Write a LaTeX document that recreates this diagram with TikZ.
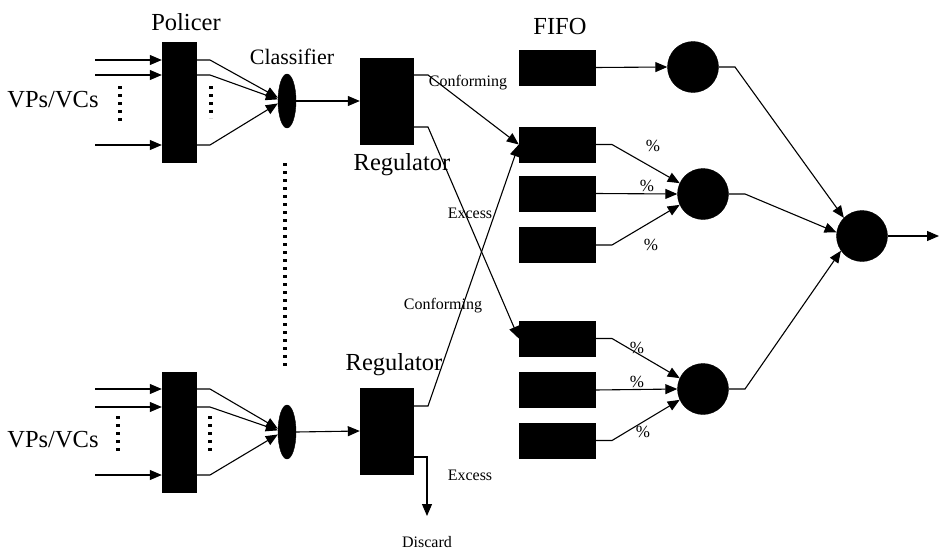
\documentclass[tikz,border=0pt]{standalone}
\usepackage{fontspec}
\setmainfont{Liberation Serif}
\usetikzlibrary{arrows.meta,shapes.geometric}
\begin{document}
\begin{tikzpicture}[x=1pt,y=-1pt,
  blk/.style={draw=black,fill=black,rectangle,inner sep=0pt},
  pol/.style={blk,minimum width=34pt,minimum height=120pt},
  reg/.style={blk,minimum width=53pt,minimum height=86pt},
  fifo/.style={blk,minimum width=76pt,minimum height=35pt},
  srv/.style={draw=black,fill=black,circle,inner sep=0pt,minimum size=51pt},
  cls/.style={draw=black,fill=black,ellipse,inner sep=0pt,minimum width=18pt,minimum height=54pt},
  big/.style={font=\fontsize{24.5}{28}\selectfont,inner sep=0pt},
  mid/.style={font=\fontsize{22}{26}\selectfont,inner sep=0pt},
  small/.style={font=\fontsize{16}{18}\selectfont,inner sep=0pt},
  pct/.style={font=\fontsize{17}{19}\selectfont,inner sep=0pt},
  ln/.style={draw=black,line width=1.1pt},
  arr/.style={ln,-{Triangle[length=12pt,width=10pt]}},
  dots/.style={draw=black,line width=3.2pt,dash pattern=on 3.2pt off 4.8pt}]
\useasboundingbox (0,0) rectangle (939,551);
% policers
\node[pol] (pol1) at (179,102) {};
\node[pol] (pol2) at (179,432.5) {};
\node[big] (lpol) at (186,22) {Policer};
\node[big] (lvp1) at (53,100) {VPs/VCs};
\node[big] (lvp2) at (53,440) {VPs/VCs};
% classifiers
\node[cls] (cls1) at (287,101) {};
\node[cls] (cls2) at (287,432) {};
\node[mid] (lcls) at (292,57) {Classifier};
% regulators
\node[reg] (reg1) at (386.5,101) {};
\node[reg] (reg2) at (386.5,431) {};
\node[big] (lreg1) at (402,165) {Regulator};
\node[big] (lreg2) at (394,365) {Regulator};
% FIFO queues
\node[big] (lfifo) at (560,27) {FIFO};
\node[fifo] (f1) at (557,67.5) {};
\node[fifo] (f2) at (557,144.5) {};
\node[fifo] (f3) at (557,193.5) {};
\node[fifo] (f4) at (557,245) {};
\node[fifo] (f5) at (557,338.5) {};
\node[fifo] (f6) at (557,390) {};
\node[fifo] (f7) at (557,440.5) {};
% servers
\node[srv] (c1) at (693,67) {};
\node[srv] (c2) at (703,194) {};
\node[srv] (c3) at (862,236) {};
\node[srv] (c4) at (703,389) {};
% input coordinates
\coordinate (a1) at (95,60);
\coordinate (a2) at (95,75);
\coordinate (a3) at (95,145);
\coordinate (b1) at (95,389);
\coordinate (b2) at (95,407);
\coordinate (b3) at (95,475);
\foreach \p in {a1,a2,a3}{\draw[arr] (\p) -- (\p -| pol1.west);}
\foreach \p in {b1,b2,b3}{\draw[arr] (\p) -- (\p -| pol2.west);}
% policer -> classifier
\draw[arr] (a1 -| pol1.east) -- (210,60) -- (cls1.160);
\draw[arr] (a2 -| pol1.east) -- (210,75) -- (cls1.170);
\draw[arr] (a3 -| pol1.east) -- (210,145) -- (cls1.195);
\draw[arr] (b1 -| pol2.east) -- (210,389) -- (cls2.160);
\draw[arr] (b2 -| pol2.east) -- (210,407) -- (cls2.170);
\draw[arr] (b3 -| pol2.east) -- (210,475) -- (cls2.195);
% dots
\draw[dots] (120,86) -- (120,124);
\draw[dots] (211,86) -- (211,118);
\draw[dots] (118,416) -- (118,454);
\draw[dots] (210,416) -- (210,454);
\draw[dots] (285,163) -- (285,370);
% classifier -> regulator
\draw[arr] (cls1.east) -- (reg1.west);
\draw[arr] (cls2.east) -- (reg2.west);
% regulator outputs
\draw[arr] (413,75) -- (428,75) -- (f2.west);
\draw[arr] (413,127) -- (428,127) -- (f5.west);
\draw[arr] (413,406) -- (428,406) -- (f2.west);
\coordinate (disc) at (427,516);
\draw[arr] (413,457) -- (427,457) -- (disc);
\node[small] (lconf1) at (468,83) {Conforming};
\node[small] (lexc1) at (470,213) {Excess};
\node[small] (lconf2) at (443,306) {Conforming};
\node[small] (lexc2) at (470,475) {Excess};
\node[small] (ldisc) at (427,542) {Discard};
% fifo -> servers
\draw[arr] (f1.east) -- (c1.west);
\draw[arr] (f2.east) -- (612,144.5) -- (c2.155);
\draw[arr] (f3.east) -- (c2.west);
\draw[arr] (f4.east) -- (612,245) -- (c2.205);
\draw[arr] (f5.east) -- (612,338.5) -- (c4.155);
\draw[arr] (f6.east) -- (c4.west);
\draw[arr] (f7.east) -- (612,440.5) -- (c4.205);
\node[pct] (p1) at (653,146) {\%};
\node[pct] (p2) at (647,186) {\%};
\node[pct] (p3) at (651,245) {\%};
\node[pct] (p4) at (637,348) {\%};
\node[pct] (p5) at (637,382) {\%};
\node[pct] (p6) at (643,432) {\%};
% servers -> final
\draw[arr] (c1.east) -- (735,67) -- (c3.135);
\draw[arr] (c2.east) -- (745,194) -- (c3.172);
\draw[arr] (c4.east) -- (745,389) -- (c3.215);
\coordinate (out) at (939,236);
\draw[arr] (c3.east) -- (out);
\end{tikzpicture}
\end{document}
